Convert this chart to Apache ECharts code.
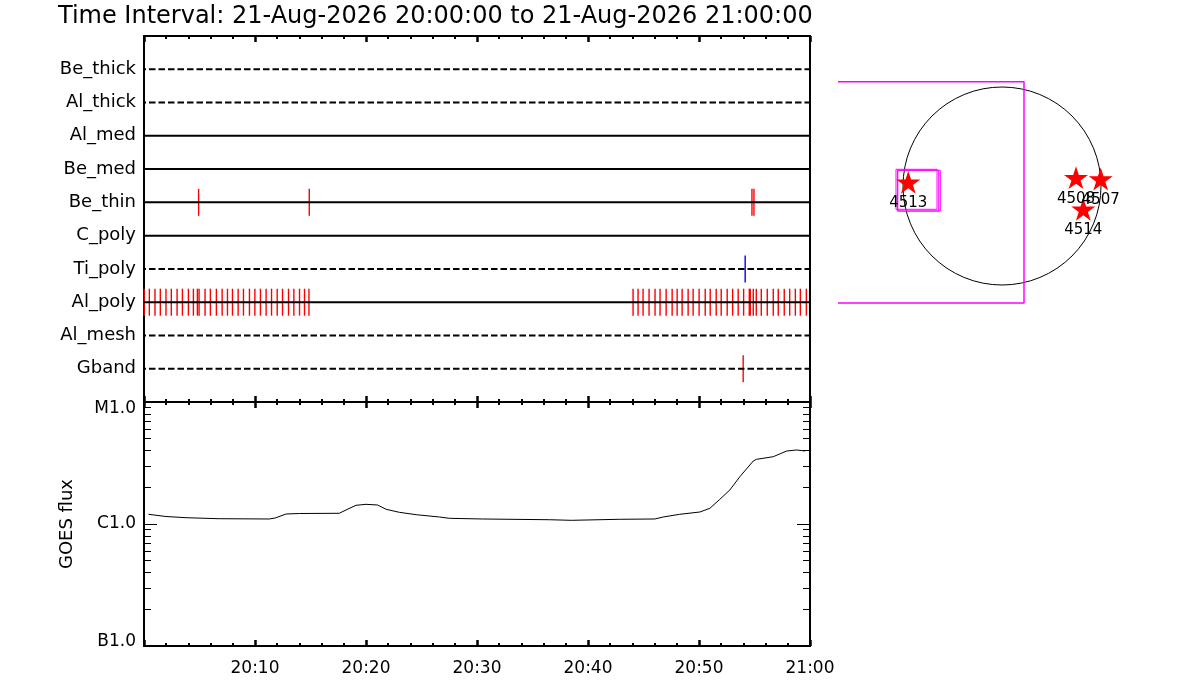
<!DOCTYPE html>
<html>
<head>
<meta charset="utf-8">
<title>Time Interval</title>
<script src="https://cdn.jsdelivr.net/npm/echarts@6/dist/echarts.min.js"></script>
<style>
  html, body { margin: 0; padding: 0; background: #fff; }
  #chart { width: 1200px; height: 700px; }
</style>
</head>
<body>
<div id="chart"></div>
<script>
// channels, top to bottom
const channels = ['Be_thick', 'Al_thick', 'Al_med', 'Be_med', 'Be_thin', 'C_poly', 'Ti_poly', 'Al_poly', 'Al_mesh', 'Gband'];
const dashedChannels = ['Be_thick', 'Al_thick', 'Ti_poly', 'Al_mesh', 'Gband'];

// event times, minutes after 20:00
const beThinTimes = [4.92, 14.89, 54.77, 54.95];
const tiPolyTimes = [54.16];
const gbandTimes = [53.98];
const alPolyTimes = [0.02, 0.48, 0.99, 1.47, 1.98, 2.46, 2.98, 3.46, 4.0, 4.45, 4.81, 4.96, 5.5, 5.98,
  6.52, 7.04, 7.52, 7.97, 8.48, 8.96, 9.5, 9.99, 10.49, 11.0, 11.49, 12.0, 12.48, 13.02, 13.5, 14.01,
  14.46, 14.86,
  44.06, 44.51, 44.96, 45.5, 46.04, 46.49, 47.04, 47.58, 48.03, 48.48, 49.02, 49.47, 50.01, 50.56,
  51.01, 51.55, 52.0, 52.54, 53.03, 53.53, 54.02, 54.53, 54.62, 54.89, 55.16, 55.61, 56.15, 56.69,
  57.14, 57.68, 58.17, 58.68, 59.13, 59.67];

// GOES flux curve (W/m^2)
const goesMinutes = [0.4, 1.98, 3.79, 6.77, 11.28, 11.82, 12.81, 13.99, 17.59, 18.2, 19.1, 20.0, 21.05,
  21.81, 23.0, 24.52, 26.62, 27.52, 30.52, 36.54, 38.5, 42.86, 46.02, 46.77, 48.27, 50.08, 50.98,
  51.88, 52.78, 53.68, 54.89, 55.19, 56.69, 57.9, 58.8, 59.55];
const goesFlux = [1.201e-6, 1.152e-6, 1.126e-6, 1.105e-6, 1.099e-6, 1.12e-6, 1.208e-6, 1.219e-6,
  1.224e-6, 1.303e-6, 1.423e-6, 1.45e-6, 1.431e-6, 1.32e-6, 1.247e-6, 1.192e-6, 1.141e-6, 1.113e-6,
  1.099e-6, 1.084e-6, 1.072e-6, 1.093e-6, 1.099e-6, 1.141e-6, 1.201e-6, 1.254e-6, 1.345e-6,
  1.594e-6, 1.901e-6, 2.441e-6, 3.284e-6, 3.391e-6, 3.561e-6, 3.967e-6, 4.042e-6, 3.967e-6];
const goesClasses = ['B1.0', 'C1.0', 'M1.0'];
const goesClassFlux = [1e-7, 1e-6, 1e-5];
const goesMinorFlux = [2e-7, 3e-7, 4e-7, 5e-7, 6e-7, 7e-7, 8e-7, 9e-7,
  2e-6, 3e-6, 4e-6, 5e-6, 6e-6, 7e-6, 8e-6, 9e-6];

// solar disk, arcsec
const sunRadius = 990;
const fovBox = [[-1640, 1043], [220, 1043], [220, -1170], [-1640, -1170]];
const subBoxes = [
  [[-1060, 167], [-650, 167], [-650, -233], [-1060, -233], [-1060, 167]],
  [[-1043, 157], [-633, 157], [-633, -250], [-1043, -250], [-1043, 157]],
  [[-1043, 157], [-617, 157], [-617, -250], [-1043, -250], [-1043, 157]]
];
const arNames = ['4513', '4508', '4507', '4514'];
const arPos = [[-937, 37], [740, 83], [987, 70], [813, -233]];

const FONT = 'DejaVu Sans';
const STAR = 'path://M0,-10L2.245,-3.09L9.511,-3.09L3.633,1.18L5.878,8.09L0,3.82L-5.878,8.09L-3.633,1.18L-9.511,-3.09L-2.245,-3.09Z';

const rowOf = ch => channels.length - channels.indexOf(ch);

function timeLabel(v) {
  if (v === 0) return '';
  const h = 20 + Math.floor(v / 60);
  const m = v % 60;
  return h + ':' + (m < 10 ? '0' : '') + m;
}

function timeAxis(grid, pos, showLabel) {
  return {
    type: 'value', gridIndex: grid, position: pos, min: 0, max: 60, interval: 10,
    axisLine: { onZero: false, lineStyle: { color: '#000', width: 2 } },
    axisTick: { inside: true, length: 6, lineStyle: { color: '#000', width: 2.5 } },
    minorTick: { show: true, splitNumber: 5, length: 3, lineStyle: { color: '#000', width: 2 } },
    splitLine: { show: false },
    axisLabel: {
      show: showLabel, formatter: timeLabel, margin: 14,
      color: '#000', fontFamily: FONT, fontSize: 17
    }
  };
}

function goesAxis(pos, ticks, len, withLine) {
  return {
    type: 'log', gridIndex: 1, position: pos, min: 1e-7, max: 1e-5, logBase: 10,
    axisLine: { show: withLine, onZero: false, lineStyle: { color: '#000', width: 2 } },
    axisTick: { inside: true, length: len, customValues: ticks, lineStyle: { color: '#000', width: 1 } },
    axisLabel: { show: false },
    splitLine: { show: false }
  };
}

const rowSeries = channels.map(ch => ({
  type: 'line', xAxisIndex: 0, yAxisIndex: 0, symbol: 'none', silent: true, z: 4,
  data: [[0, rowOf(ch)], [60, rowOf(ch)]],
  lineStyle: { color: '#000', width: 2, type: dashedChannels.includes(ch) ? [6.5, 3] : 'solid', dashOffset: -5 }
}));

const eventSets = [
  { ch: 'Be_thin', times: beThinTimes, color: '#ff0000' },
  { ch: 'Ti_poly', times: tiPolyTimes, color: '#0000ff' },
  { ch: 'Al_poly', times: alPolyTimes, color: '#ff0000' },
  { ch: 'Gband', times: gbandTimes, color: '#ff0000' }
];
const eventSeries = eventSets.map(s => ({
  type: 'scatter', xAxisIndex: 0, yAxisIndex: 0, silent: true, z: 3,
  symbol: 'rect', symbolSize: [1.4, 27],
  itemStyle: { color: s.color, opacity: 1 },
  data: s.times.map(t => [t, rowOf(s.ch)])
}));

const chart = echarts.init(document.getElementById('chart'));
chart.setOption({
  animation: false,
  backgroundColor: '#fff',
  title: {
    text: 'Time Interval: 21-Aug-2026 20:00:00 to 21-Aug-2026 21:00:00',
    left: 58, top: 5, padding: 0,
    textStyle: { fontFamily: FONT, fontSize: 24, fontWeight: 'normal', color: '#000' }
  },
  grid: [
    { left: 144, top: 36, width: 666, height: 366 },
    { left: 144, top: 402, width: 666, height: 244 },
    { left: 838, top: 36, width: 332, height: 300 }
  ],
  xAxis: [
    timeAxis(0, 'bottom', false),
    timeAxis(0, 'top', false),
    timeAxis(1, 'bottom', true),
    timeAxis(1, 'top', false),
    { type: 'value', gridIndex: 2, min: -1640, max: 1680, show: false }
  ],
  yAxis: [
    {
      type: 'value', gridIndex: 0, position: 'left', min: 0, max: channels.length + 1, interval: 1,
      axisLine: { onZero: false, lineStyle: { color: '#000', width: 2 } },
      axisTick: { show: false }, splitLine: { show: false },
      axisLabel: {
        formatter: v => (v >= 1 && v <= channels.length) ? channels[channels.length - v] : '',
        margin: 8, color: '#000', fontFamily: FONT, fontSize: 18
      }
    },
    {
      type: 'value', gridIndex: 0, position: 'right', min: 0, max: channels.length + 1,
      axisLine: { onZero: false, lineStyle: { color: '#000', width: 2 } },
      axisTick: { show: false }, axisLabel: { show: false }, splitLine: { show: false }
    },
    {
      type: 'log', gridIndex: 1, position: 'left', min: 1e-7, max: 1e-5, logBase: 10,
      name: 'GOES flux', nameLocation: 'middle', nameGap: 68, nameRotate: 90,
      nameTextStyle: { fontFamily: FONT, fontSize: 18, color: '#000' },
      axisLine: { onZero: false, lineStyle: { color: '#000', width: 2 } },
      axisTick: { inside: true, length: 13, customValues: goesClassFlux, lineStyle: { color: '#000', width: 1 } },
      splitLine: { show: false },
      axisLabel: {
        margin: 8, color: '#000', fontFamily: FONT, fontSize: 17,
        formatter: v => {
          const i = goesClassFlux.findIndex(f => Math.abs(Math.log10(f) - Math.log10(v)) < 0.01);
          if (i < 0) return '';
          const cls = i === goesClassFlux.length - 1 ? 'hi' : (i === 0 ? 'lo' : 'mid');
          return '{' + cls + '|' + goesClasses[i] + '}';
        },
        rich: {
          hi: { fontFamily: FONT, fontSize: 17, color: '#000', padding: [14, 0, 0, 0] },
          mid: { fontFamily: FONT, fontSize: 17, color: '#000' },
          lo: { fontFamily: FONT, fontSize: 17, color: '#000', padding: [0, 0, 8, 0] }
        }
      }
    },
    goesAxis('left', goesMinorFlux, 7, false),
    goesAxis('right', goesClassFlux, 13, true),
    goesAxis('right', goesMinorFlux, 7, false),
    { type: 'value', gridIndex: 2, min: -1500, max: 1500, show: false }
  ],
  series: [
    ...eventSeries,
    ...rowSeries,
    {
      type: 'line', xAxisIndex: 2, yAxisIndex: 2, symbol: 'none', silent: true,
      data: goesMinutes.map((m, i) => [m, goesFlux[i]]),
      lineStyle: { color: '#000', width: 1 }
    },
    {
      type: 'custom', xAxisIndex: 4, yAxisIndex: 6, silent: true,
      encode: { x: 0, y: 1 },
      data: [[0, 0, sunRadius]],
      renderItem: (params, api) => {
        const c = api.coord([api.value(0), api.value(1)]);
        const r = api.size([api.value(2), 0])[0];
        return {
          type: 'circle', shape: { cx: c[0], cy: c[1], r: r },
          style: { fill: 'none', stroke: '#000', lineWidth: 1 }
        };
      }
    },
    {
      type: 'line', xAxisIndex: 4, yAxisIndex: 6, symbol: 'none', silent: true, z: 4,
      data: fovBox, lineStyle: { color: '#ff00ff', width: 1.5 }
    },
    ...subBoxes.map(b => ({
      type: 'line', xAxisIndex: 4, yAxisIndex: 6, symbol: 'none', silent: true, z: 4,
      data: b, lineStyle: { color: '#ff00ff', width: 1 }
    })),
    {
      type: 'scatter', xAxisIndex: 4, yAxisIndex: 6, silent: true, z: 5,
      symbol: STAR, symbolSize: 24, symbolKeepAspect: true,
      itemStyle: { color: '#ff0000', opacity: 1 },
      label: {
        show: true, position: 'bottom', distance: 2, formatter: '{b}',
        color: '#000', fontFamily: FONT, fontSize: 15
      },
      data: arNames.map((n, i) => ({ name: n, value: arPos[i] }))
    }
  ]
});
</script>
</body>
</html>
